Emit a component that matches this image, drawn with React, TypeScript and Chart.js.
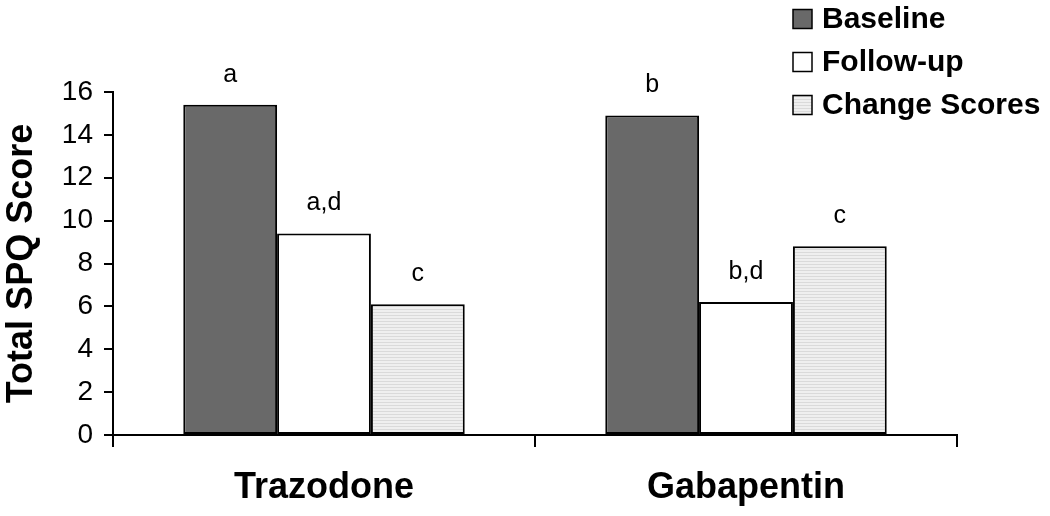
import React, { useEffect, useRef } from "react";
import { Chart, registerables } from "chart.js";

Chart.register(...registerables);

const categories = ["Trazodone", "Gabapentin"];
const seriesNames = ["Baseline", "Follow-up", "Change Scores"];
const baseline = [15.4, 14.9];
const followUp = [9.4, 6.2];
const changeScores = [6.1, 8.8];
const barLabels = [
  ["a", "b"],
  ["a,d", "b,d"],
  ["c", "c"],
];
const yTicks = [0, 2, 4, 6, 8, 10, 12, 14, 16];

const FONT = "'Liberation Sans', Arial, sans-serif";

function makePattern(): CanvasPattern | string {
  const c = document.createElement("canvas");
  c.width = 4;
  c.height = 3;
  const g = c.getContext("2d");
  if (!g) return "#e8e8e8";
  g.fillStyle = "#efefef";
  g.fillRect(0, 0, 4, 3);
  g.fillStyle = "#dadada";
  g.fillRect(0, 0, 4, 1);
  const p = g.createPattern(c, "repeat");
  return p || "#e8e8e8";
}

export default function App() {
  const ref = useRef<HTMLCanvasElement>(null);

  useEffect(() => {
    if (!ref.current) return;
    const pattern = makePattern();
    const fills: (string | CanvasPattern)[] = ["#696969", "#ffffff", pattern];

    const labelPlugin = {
      id: "barLabels",
      afterDatasetsDraw(chart: any) {
        const ctx = chart.ctx;
        ctx.save();
        ctx.fillStyle = "#000";
        ctx.font = `25px ${FONT}`;
        ctx.textAlign = "center";
        ctx.textBaseline = "middle";
        chart.data.datasets.forEach((ds: any, di: number) => {
          const meta = chart.getDatasetMeta(di);
          meta.data.forEach((bar: any, i: number) => {
            ctx.fillText(barLabels[di][i], bar.x, bar.y - 30);
          });
        });
        ctx.restore();
      },
    };

    const legendPlugin = {
      id: "customLegend",
      afterDraw(chart: any) {
        const ctx = chart.ctx;
        ctx.save();
        const x = 793;
        const ys = [19, 62, 105];
        seriesNames.forEach((name, i) => {
          const y = ys[i];
          ctx.fillStyle = fills[i];
          ctx.fillRect(x, y - 9.5, 19, 19);
          ctx.strokeStyle = "#000";
          ctx.lineWidth = 1.5;
          ctx.strokeRect(x, y - 9.5, 19, 19);
          ctx.fillStyle = "#000";
          ctx.font = `bold 30px ${FONT}`;
          ctx.textAlign = "left";
          ctx.textBaseline = "middle";
          ctx.fillText(name, 822, y + 1);
        });
        ctx.restore();
      },
    };

    const chart = new Chart(ref.current, {
      type: "bar",
      data: {
        labels: categories,
        datasets: [baseline, followUp, changeScores].map((d, i) => ({
          label: seriesNames[i],
          data: d,
          backgroundColor: fills[i] as any,
          borderColor: "#000",
          borderWidth: 2,
          borderSkipped: false,
          barPercentage: 1,
          categoryPercentage: 0.667,
        })),
      },
      options: {
        responsive: false,
        animation: false,
        layout: { padding: { top: 92, right: 93, left: 0, bottom: 0 } },
        plugins: {
          legend: { display: false },
          tooltip: { enabled: false },
        },
        scales: {
          x: {
            afterFit(scale: any) {
              scale.height = 81;
            },
            grid: {
              offset: true,
              drawOnChartArea: false,
              drawTicks: true,
              tickLength: 12,
              color: "#000",
              lineWidth: 2,
            },
            border: { color: "#000", width: 2 },
            ticks: {
              color: "#000",
              padding: 19,
              font: { family: FONT, size: 36, weight: "bold" },
            },
          },
          y: {
            min: 0,
            max: 16,
            afterFit(scale: any) {
              scale.width = 113;
            },
            afterBuildTicks(scale: any) {
              scale.ticks = yTicks.map((v) => ({ value: v }));
            },
            grid: {
              drawOnChartArea: false,
              drawTicks: true,
              tickLength: 9,
              color: "#000",
              lineWidth: 2,
            },
            border: { color: "#000", width: 2 },
            ticks: {
              color: "#000",
              padding: 11,
              font: { family: FONT, size: 28 },
            },
            title: {
              display: true,
              text: "Total SPQ Score",
              color: "#000",
              padding: { top: 0, bottom: 0 },
              font: { family: FONT, size: 36, weight: "bold" },
            },
          },
        },
      },
      plugins: [labelPlugin, legendPlugin],
    });
    return () => chart.destroy();
  }, []);

  return (
    <div style={{ position: "fixed", left: 0, top: 0, width: 1050, height: 516, background: "#fff" }}>
      <canvas ref={ref} width={1050} height={516} style={{ display: "block" }} />
    </div>
  );
}
